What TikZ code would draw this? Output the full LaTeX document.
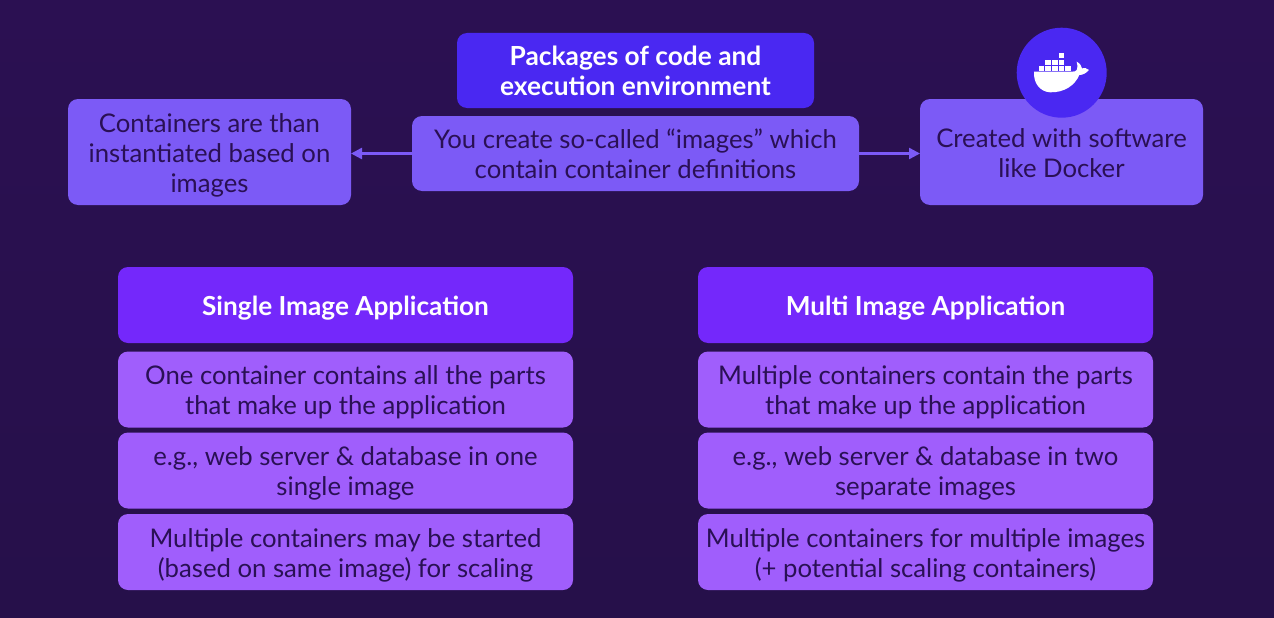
\documentclass[tikz,border=0pt]{standalone}
\usepackage{fontspec}
\setmainfont{Lato}
\usetikzlibrary{arrows.meta}
\definecolor{bgA}{HTML}{2B1052}
\definecolor{bgB}{HTML}{26104A}
\definecolor{inkc}{HTML}{2A1055}
\definecolor{topc}{HTML}{4A28F2}
\definecolor{midc}{HTML}{7C5AF6}
\definecolor{headc}{HTML}{7428FB}
\definecolor{subc}{HTML}{A05EFC}
\newcommand\tx[1]{\raisebox{-4pt}[\height][\depth]{\begin{tabular}{@{}c@{}}#1\end{tabular}}}
\tikzset{
  x=1pt,y=-1pt,
  box/.style={rounded corners=10pt,minimum width=#1,align=center,inner sep=0pt,outer sep=0pt,font=\fontsize{25.7}{30}\selectfont},
  plainbox/.style={box=#1,fill=midc,text=inkc},
  topbox/.style={box=#1,fill=topc,text=white,font=\fontsize{26.3}{30}\selectfont\bfseries},
  headbox/.style={box=#1,fill=headc,text=white,minimum height=76pt,font=\fontsize{26.2}{30}\selectfont\bfseries},
  subbox/.style={box=#1,fill=subc,text=inkc,minimum height=76pt},
  link/.style={draw=midc,line width=2.4pt,-{Triangle[length=11pt,width=11pt]}},
}
\begin{document}
\begin{tikzpicture}
\shade[top color=bgA,bottom color=bgB] (0,0) rectangle (1274,618);
\useasboundingbox (0,0) rectangle (1274,618);
\node[topbox=357pt,minimum height=75pt] (pkg) at (635.5,70.5) {\tx{Packages of code and\\execution environment}};
\node[plainbox=447pt,minimum height=75pt] (create) at (635.5,153.5) {\tx{You create so-called “images” which\\contain container definitions}};
\node[plainbox=283pt,minimum height=106pt] (inst) at (209.5,152) {\tx{Containers are than\\instantiated based on\\images}};
\node[plainbox=283pt,minimum height=106pt] (soft) at (1061.5,152) {\tx{Created with software\\like Docker}};
\node[circle,fill=topc,minimum size=90pt,inner sep=0pt] (logo) at (1061.7,72.7) {};
\draw[link] (create.west) -- (create.west -| inst.east);
\draw[link] (create.east) -- (create.east -| soft.west);
\node[headbox=455pt] (h1) at (345.5,305) {\tx{Single Image Application}};
\node[subbox=455pt] (a1) at (345.5,389.5) {\tx{One container contains all the parts\\that make up the application}};
\node[subbox=455pt] (a2) at (345.5,470.5) {\tx{e.g., web server \& database in one\\single image}};
\node[subbox=455pt] (a3) at (345.5,552) {\tx{Multiple containers may be started\\(based on same image) for scaling}};
\node[headbox=455pt] (h2) at (925.5,305) {\tx{Multi Image Application}};
\node[subbox=455pt] (b1) at (925.5,389.5) {\tx{Multiple containers contain the parts\\that make up the application}};
\node[subbox=455pt] (b2) at (925.5,470.5) {\tx{e.g., web server \& database in two\\separate images}};
\node[subbox=455pt] (b3) at (925.5,552) {\tx{Multiple containers for multiple images\\(+ potential scaling containers)}};
% whale
\begin{scope}[shift={(900,20)},x=0.3333pt,y=-0.3333pt]
\fill[white] (402,155) -- (517,155) .. controls (530,155) and (536,150) .. (530,125)
  .. controls (540,130) and (545,138) .. (546,145) .. controls (552,143) and (560,143) .. (567,150)
  .. controls (558,160) and (548,165) .. (538,165) .. controls (525,195) and (495,218) .. (450,217)
  .. controls (420,215) and (400,190) .. (402,155) -- cycle;
\foreach \x/\y in {416/138,436/138,456/138,476/138,496/138,436/119,456/119,476/119,476/100}
  \fill[white] (\x,\y) rectangle +(17,15);
\end{scope}
\end{tikzpicture}
\end{document}
